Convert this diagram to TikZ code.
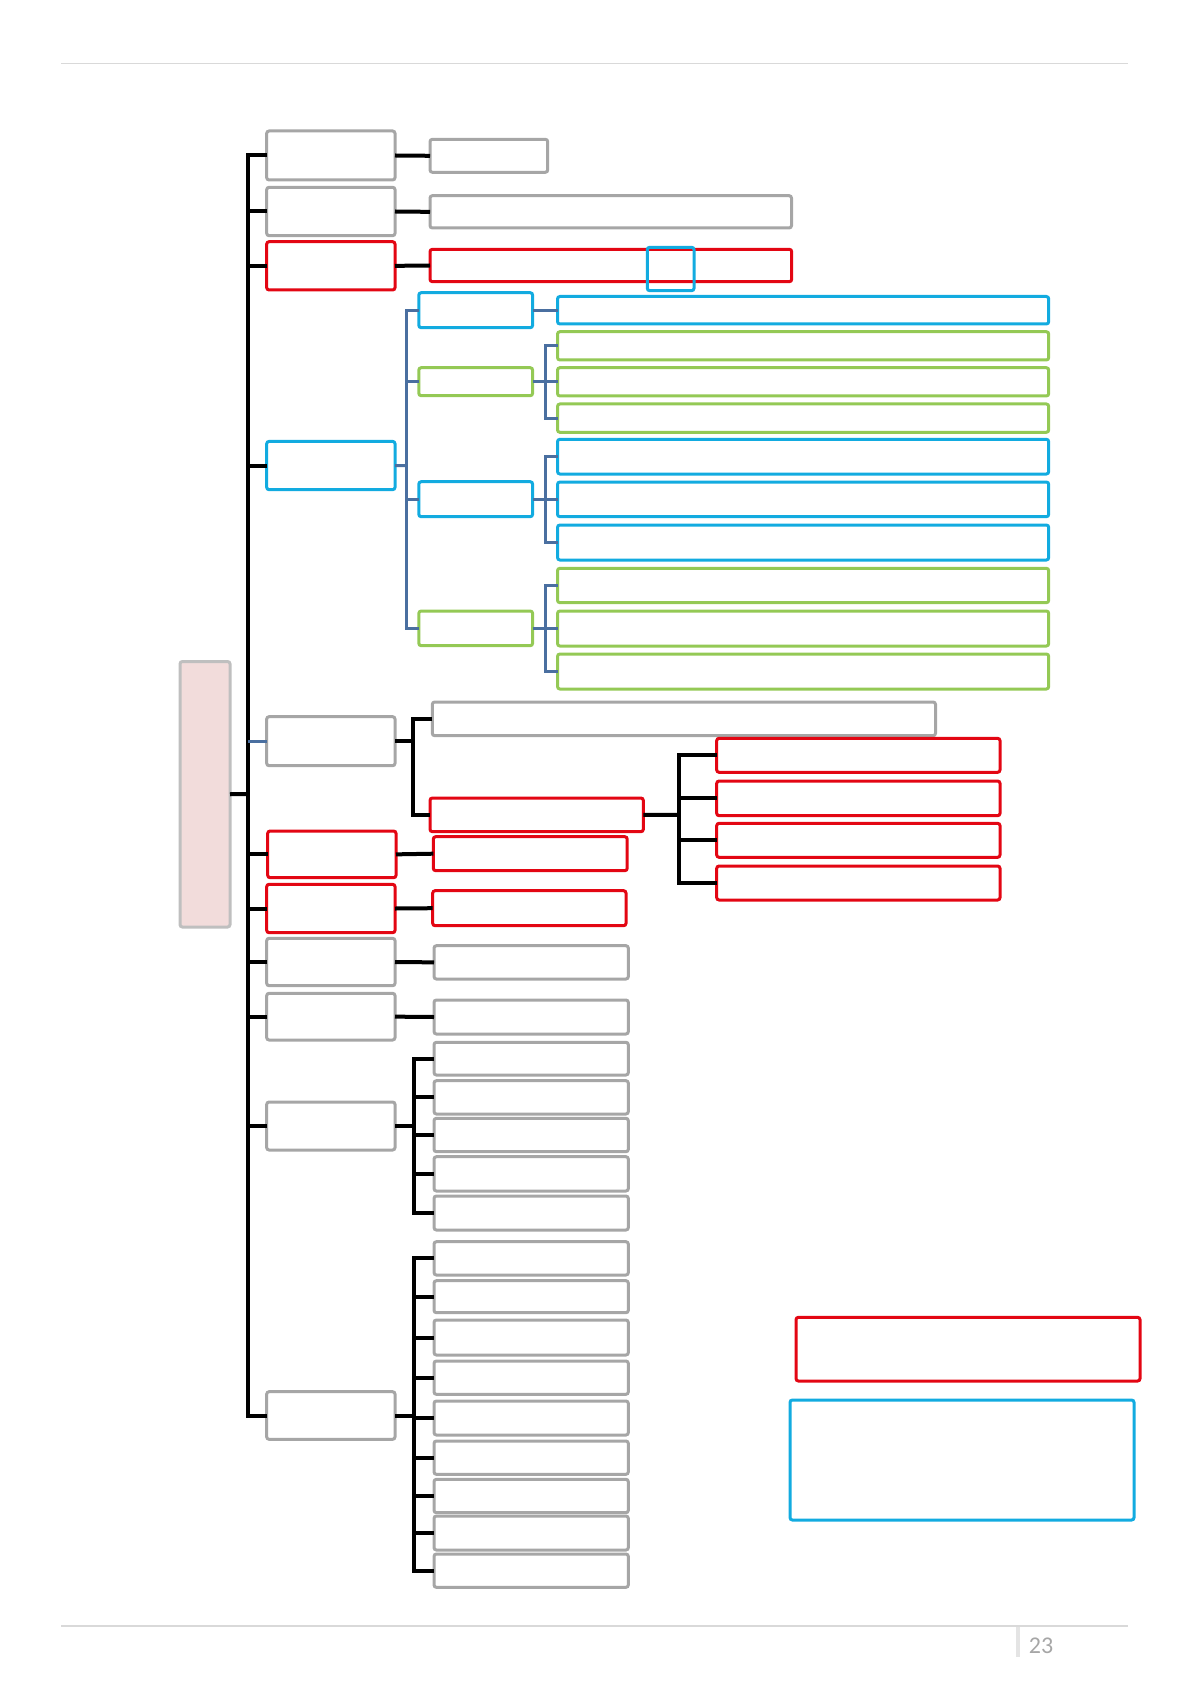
\documentclass[tikz,border=0pt]{standalone}
\usepackage{fontspec}
\newfontfamily\pgfont{Carlito}
\definecolor{bgray}{HTML}{A6A6A6}
\definecolor{bred}{HTML}{E30613}
\definecolor{bcyan}{HTML}{12ABE0}
\definecolor{bgreen}{HTML}{94C955}
\definecolor{bsteel}{HTML}{4A6FA0}
\definecolor{rootfill}{HTML}{F2DCDB}
\definecolor{rootline}{HTML}{BFBFBF}
\definecolor{rulegray}{HTML}{D9D9D9}
\newcommand\bx[6]{\node[#1, minimum width={(#5-#3)*0.5pt}, minimum height={(#6-#4)*0.5pt}] (#2) at ({(#3+#5)/2},{(#4+#6)/2}) {};}
\begin{document}
\begin{tikzpicture}[x=0.5pt,y=-0.5pt,
  boxbase/.style={draw, rectangle, rounded corners=1.2pt, inner sep=0pt, outer sep=0pt, line width=1.5pt, fill=white},
  gbox/.style={boxbase, draw=bgray},
  rbox/.style={boxbase, draw=bred},
  cbox/.style={boxbase, draw=bcyan},
  vbox/.style={boxbase, draw=bgreen},
  cframe/.style={boxbase, draw=bcyan, fill=none},
  rootbox/.style={boxbase, draw=rootline, fill=rootfill},
  blk/.style={draw=black, line width=2pt, line join=miter},
  stl/.style={draw=bsteel, line width=1.5pt, line join=miter}]
\useasboundingbox (0,0) rectangle (1191,1684);
% header / footer
\draw[rulegray, line width=0.6pt] (61,63.4) -- (1128,63.4);
\draw[rulegray, line width=0.6pt] (61,1626) -- (1128,1626);
\draw[rulegray!70, line width=2pt] (1017.7,1627) -- (1017.7,1657);
\node[anchor=base, inner sep=0pt, text=bgray, font=\pgfont\fontsize{12}{14}\selectfont] (pg) at (1041,1653) {23};
% root
\bx{rootbox}{root}{180}{661.5}{230}{927}
% level 1
\bx{gbox}{a1}{266.7}{131}{395}{180}
\bx{gbox}{a2}{266.7}{187.3}{395}{235.7}
\bx{rbox}{a3}{266.7}{241.7}{395}{290}
\bx{cbox}{a4}{266.7}{441.4}{395}{489.7}
\bx{gbox}{a5}{266.7}{716.7}{395}{765.7}
\bx{rbox}{a6}{267.7}{831}{396}{877.7}
\bx{rbox}{a7}{266.7}{884.3}{395}{932.7}
\bx{gbox}{a8}{266.7}{938.3}{395}{985.7}
\bx{gbox}{a9}{266.7}{993.3}{395}{1040}
\bx{gbox}{a10}{266.7}{1102}{395}{1150}
\bx{gbox}{a11}{266.7}{1391.7}{395}{1439.3}
% spine
\coordinate (sp) at (248.3,794);
\draw[blk] (root.east) -- (sp);
\draw[blk] (a1.west) -| (a11.west -| sp) -- (a11.west);
\foreach \n in {a2,a3,a4,a6,a7,a8,a9,a10} \draw[blk] (\n.west -| sp) -- (\n.west);
\draw[stl] (a5.west -| sp) -- (a5.west);
% simple children
\bx{gbox}{b1}{430}{139.3}{547.7}{172.3}
\bx{gbox}{b2}{430}{195.7}{791.5}{228}
\bx{rbox}{b3}{430}{249.3}{791.7}{281.7}
\bx{cframe}{b3x}{647.3}{247.3}{694}{290.7}
\draw[blk] (a1.east) -- (b1.west);
\draw[blk] (a2.east) -- (b2.west);
\draw[blk] (a3.east) -- (b3.west);
\bx{rbox}{b6}{433.3}{836.7}{627.2}{870.7}
\bx{rbox}{b7}{432.7}{890.7}{626}{925.7}
\bx{gbox}{b8}{434}{945.7}{628.3}{979}
\bx{gbox}{b9}{434}{1000}{628.3}{1034}
\draw[blk] (a6.east) -- (b6.west);
\draw[blk] (a7.east) -- (b7.west);
\draw[blk] (a8.east) -- (b8.west);
\draw[blk] (a9.east) -- (b9.west);
% item 4 (steel connectors)
\bx{cbox}{qA}{418.8}{292.7}{532.6}{327.7}
\bx{vbox}{qB}{418.8}{367.7}{532.6}{395.7}
\bx{cbox}{qC}{418.8}{481.7}{532.6}{516.7}
\bx{vbox}{qD}{418.8}{611}{532.6}{645.7}
\coordinate (s4) at (406.5,465.6);
\draw[stl] (a4.east) -- (s4);
\draw[stl] (qA.west) -| (qD.west -| s4) -- (qD.west);
\draw[stl] (qB.west -| s4) -- (qB.west);
\draw[stl] (qC.west -| s4) -- (qC.west);
\bx{cbox}{cA}{557.5}{296.5}{1048.7}{324}
\draw[stl] (qA.east) -- (qA.east -| cA.west);
\bx{vbox}{cB1}{557.5}{331.7}{1048.7}{360}
\bx{vbox}{cB2}{557.5}{367.7}{1048.7}{396}
\bx{vbox}{cB3}{557.5}{404}{1048.7}{432.3}
\bx{cbox}{cC1}{557.5}{439.3}{1048.7}{474}
\bx{cbox}{cC2}{557.5}{482}{1048.7}{516.7}
\bx{cbox}{cC3}{557.5}{525}{1048.7}{560}
\bx{vbox}{cD1}{557.5}{568.3}{1048.7}{602.7}
\bx{vbox}{cD2}{557.5}{611}{1048.7}{646}
\bx{vbox}{cD3}{557.5}{654}{1048.7}{689}
\coordinate (sB) at (545,381.7);
\coordinate (sC) at (545,499.2);
\coordinate (sD) at (545,628.4);
\draw[stl] (qB.east) -- (qB.east -| sB);
\draw[stl] (cB1.west) -| (cB3.west -| sB) -- (cB3.west);
\draw[stl] (cB2.west -| sB) -- (cB2.west);
\draw[stl] (qC.east) -- (qC.east -| sC);
\draw[stl] (cC1.west) -| (cC3.west -| sC) -- (cC3.west);
\draw[stl] (cC2.west -| sC) -- (cC2.west);
\draw[stl] (qD.east) -- (qD.east -| sD);
\draw[stl] (cD1.west) -| (cD3.west -| sD) -- (cD3.west);
\draw[stl] (cD2.west -| sD) -- (cD2.west);
% item 5
\bx{gbox}{b5a}{432.3}{702}{935.5}{735.7}
\bx{rbox}{b5b}{430}{798}{643.3}{831.7}
\coordinate (s5) at (412.5,741.2);
\draw[blk] (a5.east) -- (s5);
\draw[blk] (b5a.west) -| (b5b.west -| s5) -- (b5b.west);
\bx{rbox}{r1}{716.7}{738.3}{1000}{772.3}
\bx{rbox}{r2}{716.7}{781}{1000}{815.7}
\bx{rbox}{r3}{716.7}{823.3}{1000}{857.3}
\bx{rbox}{r4}{716.7}{866}{1000}{900}
\coordinate (s5b) at (679.3,814.9);
\draw[blk] (b5b.east) -- (s5b);
\draw[blk] (r1.west) -| (r4.west -| s5b) -- (r4.west);
\draw[blk] (r2.west -| s5b) -- (r2.west);
\draw[blk] (r3.west -| s5b) -- (r3.west);
% item 10
\bx{gbox}{g1}{434}{1042.3}{628.3}{1075}
\bx{gbox}{g2}{434}{1080.7}{628.3}{1114}
\bx{gbox}{g3}{434}{1118.3}{628.3}{1151.7}
\bx{gbox}{g4}{434}{1156.7}{628.3}{1191}
\bx{gbox}{g5}{434}{1196}{628.3}{1230}
\coordinate (s10) at (413.5,1126);
\draw[blk] (a10.east) -- (s10);
\draw[blk] (g1.west) -| (g5.west -| s10) -- (g5.west);
\foreach \n in {g2,g3,g4} \draw[blk] (\n.west -| s10) -- (\n.west);
% item 11
\bx{gbox}{h1}{434}{1241.7}{628.3}{1275}
\bx{gbox}{h2}{434}{1280.7}{628.3}{1312.7}
\bx{gbox}{h3}{434}{1320}{628.3}{1355}
\bx{gbox}{h4}{434}{1361}{628.3}{1394.3}
\bx{gbox}{h5}{434}{1401}{628.3}{1435}
\bx{gbox}{h6}{434}{1441}{628.3}{1474.3}
\bx{gbox}{h7}{434}{1479.3}{628.3}{1512.7}
\bx{gbox}{h8}{434}{1516}{628.3}{1550}
\bx{gbox}{h9}{434}{1554}{628.3}{1587.3}
\coordinate (s11) at (413.5,1415.5);
\draw[blk] (a11.east) -- (s11);
\draw[blk] (h1.west) -| (h9.west -| s11) -- (h9.west);
\foreach \n in {h2,h3,h4,h5,h6,h7,h8} \draw[blk] (\n.west -| s11) -- (\n.west);
% legend boxes
\bx{rbox}{lr}{796}{1317.3}{1140}{1381}
\bx{cbox}{lc}{790}{1400}{1134}{1520}
\end{tikzpicture}
\end{document}
